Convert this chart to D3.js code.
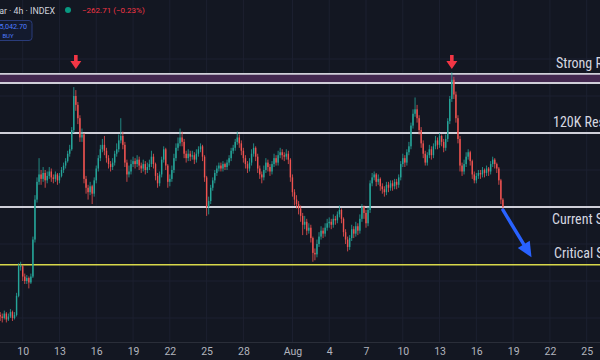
<!DOCTYPE html>
<html><head><meta charset="utf-8">
<script src="https://cdn.jsdelivr.net/npm/d3@7"></script>
<style>
html,body{margin:0;padding:0;background:#131722;}
svg{display:block;}
</style></head>
<body>
<svg id="c" width="600" height="360"></svg>
<script>
// ---- data (BTC/USD 4h, prices in thousands USD) ----
const startTime = "2025-07-08T04:00:00Z";
const firstOpen = 107.7;
const closes = [107.6,107.5,107.8,107.4,107.6,107.9,107.5,107.7,109.0,111.0,
111.0,110.3,110.0,110.2,109.9,110.3,112.8,115.5,116.7,117.2,
116.9,117.3,116.8,117.1,117.4,117.0,116.9,117.2,116.8,117.1,
117.5,117.8,118.1,118.6,118.9,120.2,122.5,121.9,121.0,119.7,
119.9,116.9,116.3,116.0,116.4,115.9,116.8,117.6,118.3,118.9,
119.2,118.8,118.3,117.9,117.7,118.0,118.6,118.9,119.5,119.8,
119.2,118.0,117.2,117.4,117.9,118.1,117.9,118.2,117.8,117.6,
117.9,117.5,117.7,117.9,118.4,117.9,117.1,116.6,117.2,118.2,
118.9,117.8,116.7,116.9,117.5,118.3,119.0,119.3,119.7,119.4,
118.6,118.3,118.6,118.4,118.5,118.2,118.6,118.9,119.1,118.4,
117.0,115.0,115.4,116.3,116.8,117.3,117.6,117.8,117.6,117.9,
117.7,118.0,118.3,118.8,119.0,119.4,119.7,119.3,118.8,118.3,
117.9,117.6,118.0,118.6,119.0,118.4,117.6,117.2,117.0,117.5,
118.0,117.7,117.4,117.9,118.3,118.0,118.5,118.7,118.5,118.4,
118.6,118.2,117.0,116.0,115.5,115.2,114.9,114.4,113.8,114.0,
113.4,113.6,112.9,111.9,111.8,112.5,113.0,113.4,113.2,113.6,
113.9,114.0,113.8,114.2,114.1,114.5,114.8,114.2,113.3,112.8,
112.3,112.9,113.5,113.2,113.7,113.4,114.2,115.0,114.6,113.9,
114.8,116.6,117.0,117.2,116.7,116.9,116.4,116.2,116.0,116.5,
116.3,116.6,116.4,116.7,116.5,117.0,117.9,118.3,118.0,118.7,
119.1,120.5,121.3,121.6,121.0,120.2,119.3,118.6,118.0,118.5,
118.9,118.5,119.1,119.5,119.2,119.8,119.4,119.0,119.6,120.8,
122.3,123.6,122.6,121.0,119.6,117.8,117.4,117.9,118.4,118.7,
118.1,117.2,116.8,117.1,117.3,117.2,117.5,117.3,117.6,117.4,
117.9,118.2,117.9,117.6,116.8,115.5,115.0];
const highs = [107.9,107.8,108.0,107.9,107.8,108.1,108.0,107.9,109.2,111.2,
111.3,111.1,110.5,110.4,110.3,110.5,113.0,115.8,117.0,118.3,
117.5,117.7,117.5,117.4,117.7,117.6,117.2,117.4,117.3,117.3,
117.7,118.0,118.3,118.8,119.2,120.4,123.1,122.9,122.1,121.2,
120.3,120.0,117.1,116.5,116.7,116.5,117.0,117.8,118.5,119.2,
119.6,119.8,119.0,118.5,118.1,118.3,118.8,119.3,119.9,121.0,
120.1,119.4,118.2,117.8,118.2,118.4,118.3,118.5,118.4,118.0,
118.2,118.1,118.0,118.2,118.8,118.6,118.0,117.3,117.4,118.4,
119.1,119.0,117.9,117.2,117.8,118.6,119.3,119.7,120.3,120.1,
119.6,118.8,118.9,118.8,118.8,118.7,118.9,119.1,119.3,119.2,
118.5,117.1,115.7,116.5,117.0,117.5,117.8,118.0,118.0,118.1,
118.0,118.2,118.5,119.0,119.2,119.6,120.1,119.9,119.5,119.0,
118.5,118.1,118.3,118.9,119.3,119.1,118.6,117.8,117.4,117.8,
118.3,118.2,117.9,118.1,118.6,118.5,118.8,119.0,118.9,118.7,
118.9,118.8,118.3,117.2,116.2,115.8,115.4,115.1,114.6,114.4,
114.2,113.9,113.8,113.0,112.2,112.8,113.3,113.7,113.6,113.9,
114.2,114.3,114.2,114.5,114.4,114.7,115.1,114.9,114.3,113.5,
113.0,113.1,113.8,113.7,114.0,113.9,114.5,115.2,115.1,114.8,
115.0,116.8,117.3,117.4,117.3,117.2,117.0,116.6,116.4,116.7,
116.7,116.8,116.8,116.9,116.9,117.2,118.1,118.6,118.5,118.9,
119.4,120.7,121.6,122.4,121.9,121.2,120.4,119.5,118.8,118.7,
119.2,119.1,119.3,119.8,119.7,120.0,119.9,119.6,119.9,121.0,
122.5,124.1,123.8,122.8,121.2,119.8,118.0,118.2,118.7,118.9,
118.8,118.2,117.4,117.3,117.5,117.5,117.7,117.6,117.8,117.7,
118.1,118.4,118.3,118.0,117.7,116.9,115.6];
const lows = [107.3,107.2,107.4,107.2,107.3,107.5,107.3,107.4,107.6,108.9,
110.7,110.0,109.8,109.8,109.5,109.8,110.2,112.6,115.3,116.5,
116.5,116.7,116.3,116.6,116.9,116.7,116.6,116.7,116.5,116.6,
117.0,117.3,117.6,118.0,118.4,118.8,120.0,121.5,120.6,119.4,
119.4,116.6,115.9,115.5,115.8,115.2,115.7,116.6,117.4,118.1,
118.7,118.5,118.0,117.6,117.4,117.5,117.8,118.4,118.7,119.3,
118.9,117.7,116.7,117.0,117.2,117.7,117.6,117.7,117.5,117.3,
117.4,117.2,117.3,117.5,117.7,117.6,116.8,116.3,116.4,117.0,
118.0,117.5,116.3,116.4,116.7,117.3,118.1,118.8,119.1,119.1,
118.3,118.0,118.1,118.1,118.2,117.9,118.0,118.4,118.7,118.1,
116.7,114.4,114.5,115.2,116.1,116.6,117.1,117.4,117.4,117.4,
117.5,117.5,117.8,118.1,118.6,118.8,119.2,119.0,118.5,118.0,
117.6,117.3,117.4,117.8,118.4,118.1,117.3,116.9,116.6,116.8,
117.3,117.4,117.1,117.2,117.7,117.8,117.8,118.3,118.2,118.1,
118.2,117.9,116.7,115.7,115.1,114.9,114.5,114.0,113.1,113.5,
113.1,113.2,112.6,111.3,111.4,111.6,112.3,112.8,112.9,113.0,
113.4,113.6,113.5,113.6,113.8,113.9,114.3,113.9,113.0,112.5,
112.0,112.1,112.7,112.9,113.0,113.1,113.2,114.0,114.2,113.6,
113.7,114.6,116.4,116.8,116.4,116.5,116.1,115.9,115.7,115.8,
116.0,116.1,116.1,116.2,116.2,116.3,116.8,117.7,117.7,117.8,
118.5,118.9,120.3,121.1,120.7,119.9,119.0,118.3,117.8,117.8,
118.3,118.2,118.3,118.9,118.9,119.0,119.1,118.7,118.8,119.4,
120.6,122.1,122.3,120.7,119.3,117.4,117.1,117.2,117.7,118.2,
117.8,116.9,116.6,116.6,116.9,116.9,117.0,117.0,117.1,117.1,
117.2,117.7,117.6,117.3,116.5,115.2,114.7];

// key levels (thousand USD)
const strongResBand = [123.38, 123.99];
const resLevel = 120.0;
const supportLevel = 115.0;
const criticalLevel = 111.1;
const levelLabels = ["Strong Resistance", "120K Resistance", "Current Support", "Critical Support"];

// annotations
const peakArrowDates = ["2025-07-14T08:00:00Z", "2025-08-14T00:00:00Z"];
const projection = [["2025-08-18T04:00:00Z", 114.8], ["2025-08-20T12:00:00Z", 111.6]];

// x-axis ticks
const tickDates = ["2025-07-10","2025-07-13","2025-07-16","2025-07-19","2025-07-22","2025-07-25","2025-07-28",
  "2025-08-01","2025-08-04","2025-08-07","2025-08-10","2025-08-13","2025-08-16","2025-08-19","2025-08-22","2025-08-25"];
const tickLabels = ["10","13","16","19","22","25","28","Aug","4","7","10","13","16","19","22","25"];

// header
const headerTitle = "Bitcoin / U.S. Dollar · 4h · INDEX";
const headerChange = "−262.71 (−0.23%)";
const buyPrice = "115,042.70";

// ---- drawing ----
const W = 600, H = 360;
const svg = d3.select("#c");
const font = "Roboto, 'Noto Sans', sans-serif";
const labelFont = "'Liberation Sans Narrow', 'Roboto Condensed', 'Open Sans Condensed', Roboto, sans-serif";

const x = d3.scaleUtc()
  .domain([new Date("2025-07-10T00:00:00Z"), new Date("2025-08-25T00:00:00Z")])
  .range([22.7, 586.7]);
const y = d3.scaleLinear().domain([105, 125]).range([355, 59]);

const t0 = new Date(startTime).getTime();
const candles = closes.map((c, i) => ({
  t: new Date(t0 + i * 4 * 3600 * 1000),
  o: i === 0 ? firstOpen : closes[i - 1],
  c, h: highs[i], l: lows[i]
}));

svg.append("rect").attr("width", W).attr("height", H).attr("fill", "#131722");

// grid
const grid = svg.append("g");
grid.selectAll("line.v").data(tickDates).join("line")
  .attr("x1", d => x(new Date(d + "T00:00:00Z"))).attr("x2", d => x(new Date(d + "T00:00:00Z")))
  .attr("y1", 0).attr("y2", 342).attr("stroke", "#1c2030").attr("stroke-width", 1);
const gridPrices = [107.5, 110, 112.5, 115, 117.5, 120, 122.5, 125];
grid.selectAll("line.h").data(gridPrices).join("line")
  .attr("x1", 0).attr("x2", W).attr("y1", d => y(d)).attr("y2", d => y(d))
  .attr("stroke", "#1c2030").attr("stroke-width", 1);

// strong resistance band
svg.append("rect")
  .attr("x", 0).attr("width", W)
  .attr("y", y(strongResBand[1])).attr("height", y(strongResBand[0]) - y(strongResBand[1]))
  .attr("fill", "#43284f");
strongResBand.forEach(v => {
  svg.append("line").attr("x1", 0).attr("x2", W).attr("y1", y(v)).attr("y2", y(v))
    .attr("stroke", "#cfcfd8").attr("stroke-width", 1.8);
});
[resLevel, supportLevel].forEach(v => {
  svg.append("line").attr("x1", 0).attr("x2", W).attr("y1", y(v)).attr("y2", y(v))
    .attr("stroke", "#cfcfd8").attr("stroke-width", 1.8);
});
svg.append("line").attr("x1", 0).attr("x2", W).attr("y1", y(criticalLevel)).attr("y2", y(criticalLevel))
  .attr("stroke", "#d8d84a").attr("stroke-width", 1.6);

// candles
const cw = 1.4;
const cg = svg.append("g");
cg.selectAll("line").data(candles).join("line")
  .attr("x1", d => x(d.t)).attr("x2", d => x(d.t))
  .attr("y1", d => y(d.h)).attr("y2", d => y(d.l))
  .attr("stroke", d => d.c >= d.o ? "#26a69a" : "#ef5350").attr("stroke-width", 0.8);
cg.selectAll("rect").data(candles).join("rect")
  .attr("x", d => x(d.t) - cw / 2).attr("width", cw)
  .attr("y", d => y(Math.max(d.o, d.c)))
  .attr("height", d => Math.max(0.8, Math.abs(y(d.o) - y(d.c))))
  .attr("fill", d => d.c >= d.o ? "#26a69a" : "#ef5350");

// level labels
const labelY = [y(strongResBand[1]) - 6, y(resLevel) - 6, y(supportLevel) + 17, y(criticalLevel) - 7];
const labelX = [556, 553, 552, 554];
svg.selectAll("text.lvl").data(levelLabels).join("text")
  .attr("x", (d, i) => labelX[i]).attr("y", (d, i) => labelY[i])
  .attr("fill", "#d6d8e0").attr("font-family", labelFont).attr("font-size", 14)
  .text(d => d);

// red peak arrows
const arrowG = svg.append("g");
peakArrowDates.forEach(d => {
  const ax = x(new Date(d));
  arrowG.append("path")
    .attr("d", `M${ax - 1.8},55 L${ax + 1.8},55 L${ax + 1.8},61 L${ax + 5.5},61 L${ax},69 L${ax - 5.5},61 L${ax - 1.8},61 Z`)
    .attr("fill", "#f23645");
});

// blue projection arrow
const p0 = [x(new Date(projection[0][0])), y(projection[0][1])];
const p1 = [x(new Date(projection[1][0])), y(projection[1][1])];
const ang = Math.atan2(p1[1] - p0[1], p1[0] - p0[0]);
const headL = 15, headW = 7;
const base = [p1[0] - headL * Math.cos(ang), p1[1] - headL * Math.sin(ang)];
svg.append("line").attr("x1", p0[0]).attr("y1", p0[1]).attr("x2", base[0]).attr("y2", base[1])
  .attr("stroke", "#2962ff").attr("stroke-width", 3.4).attr("stroke-linecap", "round");
svg.append("path")
  .attr("d", `M${p1[0]},${p1[1]} L${base[0] + headW * Math.sin(ang)},${base[1] - headW * Math.cos(ang)} L${base[0] - headW * Math.sin(ang)},${base[1] + headW * Math.cos(ang)} Z`)
  .attr("fill", "#2962ff");

// x axis
svg.append("line").attr("x1", 0).attr("x2", W).attr("y1", 342.5).attr("y2", 342.5)
  .attr("stroke", "#2a2e39").attr("stroke-width", 1);
const xAxis = d3.axisBottom(x)
  .tickValues(tickDates.map(d => new Date(d + "T00:00:00Z")))
  .tickFormat((d, i) => tickLabels[i]).tickSize(0).tickPadding(0);
const ax = svg.append("g").attr("transform", "translate(0,347)").call(xAxis);
ax.select(".domain").remove();
ax.selectAll("text").attr("fill", "#b2b5be").attr("font-family", font).attr("font-size", 10.5).attr("dy", "0.8em");

// header
svg.append("text").attr("x", 55).attr("y", 13.5).attr("text-anchor", "end")
  .attr("fill", "#d1d4dc").attr("font-family", font).attr("font-size", 8.8).text(headerTitle);
svg.append("circle").attr("cx", 68).attr("cy", 10).attr("r", 3).attr("fill", "#089981");
svg.append("text").attr("x", 82).attr("y", 13)
  .attr("fill", "#f23645").attr("font-family", font).attr("font-size", 8).text(headerChange);
svg.append("rect").attr("x", -30).attr("y", 20.5).attr("width", 62).attr("height", 20).attr("rx", 3)
  .attr("fill", "#131a2e").attr("stroke", "#2a3c7a").attr("stroke-width", 1);
svg.append("text").attr("x", 27).attr("y", 29).attr("text-anchor", "end")
  .attr("fill", "#4d7bff").attr("font-family", font).attr("font-size", 7.2).text(buyPrice);
svg.append("text").attr("x", 8).attr("y", 37.5).attr("text-anchor", "middle")
  .attr("fill", "#4d7bff").attr("font-family", font).attr("font-size", 6).text("BUY");
</script>
</body></html>
